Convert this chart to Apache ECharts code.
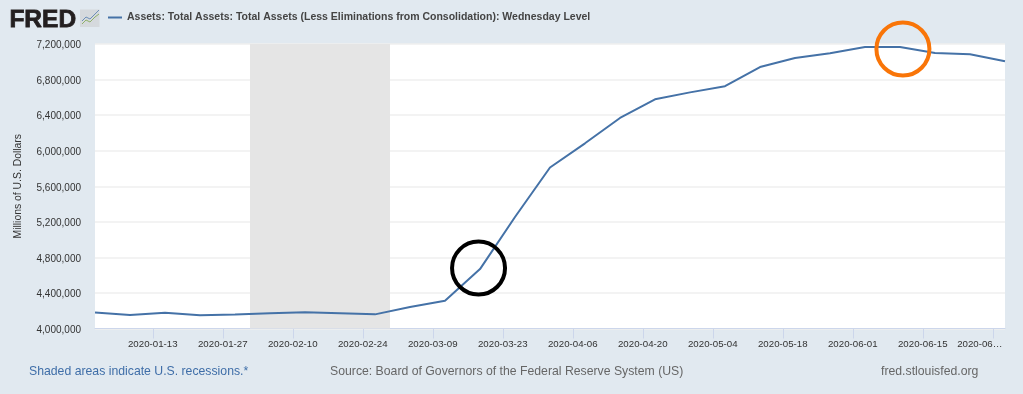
<!DOCTYPE html>
<html>
<head>
<meta charset="utf-8">
<style>html,body{margin:0;padding:0;background:#e1e9f0}#root{width:1023px;height:394px}</style>
<script src="https://cdn.jsdelivr.net/npm/echarts@6/dist/echarts.min.js"></script>
</head>
<body>
<div id="root"></div>
<script>
const seriesName = 'Assets: Total Assets: Total Assets (Less Eliminations from Consolidation): Wednesday Level';
const weekDates = ['2020-01-01','2020-01-08','2020-01-15','2020-01-22','2020-01-29','2020-02-05','2020-02-12','2020-02-19','2020-02-26',
  '2020-03-04','2020-03-11','2020-03-18','2020-03-25','2020-04-01','2020-04-08','2020-04-15','2020-04-22','2020-04-29',
  '2020-05-06','2020-05-13','2020-05-20','2020-05-27','2020-06-03','2020-06-10','2020-06-17','2020-06-24','2020-07-01'];
const assetValues = [4180000,4152000,4176000,4148000,4158000,4171000,4184000,4172000,4159000,
  4242000,4312000,4668000,5254000,5811000,6083000,6368000,6578000,6656000,
  6725000,6941000,7043000,7097000,7167000,7167000,7098000,7085000,7006000];
const tickDates = ['2020-01-13','2020-01-27','2020-02-10','2020-02-24','2020-03-09','2020-03-23','2020-04-06',
  '2020-04-20','2020-05-04','2020-05-18','2020-06-01','2020-06-15','2020-06-29'];
const tickLabels = ['2020-01-13','2020-01-27','2020-02-10','2020-02-24','2020-03-09','2020-03-23','2020-04-06',
  '2020-04-20','2020-05-04','2020-05-18','2020-06-01','2020-06-15','2020-06…'];
const recession = ['2020-02-01','2020-02-29'];
const blackCircle = ['2020-03-17T17:00Z',4680000];
const orangeCircle = ['2020-06-10T14:00Z',7144000];

const font = '"Liberation Sans", Arial, sans-serif';
// dates go on a plain value axis as ms, the ticks are every other monday
const ms = d => Date.parse(d);
// fred's ticks sit about half a day ahead of the data
const tickShift = 0.45*86400000;
const tickTimes = tickDates.map(d => ms(d)-tickShift);

let root = document.getElementById('root');
let myCharts = echarts.init(root);
let option = {
  animation:false,
  backgroundColor:'#e1e9f0',
  textStyle:{fontFamily:font},
  legend:{
    left:103,
    top:7,
    icon:'rect',
    itemWidth:14,
    itemHeight:2,
    itemGap:0,
    data:[seriesName],
    textStyle:{fontFamily:font,fontSize:10.5,fontWeight:'bold',color:'#444'}
  },
  grid:{
    show:true,
    left:95,
    right:18,
    top:44,
    bottom:65.5,
    backgroundColor:'#fff',
    borderWidth:0
  },
  xAxis:{
    type:'value',
    min:ms(weekDates[0]),
    max:ms(weekDates[weekDates.length-1]),
    splitLine:{show:false},
    axisLine:{onZero:false,lineStyle:{color:'#ccd6eb'}},
    axisTick:{length:10,lineStyle:{color:'#ccd6eb'},customValues:tickTimes},
    axisLabel:{
      customValues:tickTimes,
      hideOverlap:false,
      showMinLabel:true,
      showMaxLabel:true,
      margin:11,
      fontFamily:font,
      fontSize:9.7,
      color:'#333',
      formatter:v => {
        let i = tickTimes.indexOf(v);
        return i === tickLabels.length-1 ? '{last|'+tickLabels[i]+'}' : tickLabels[i];
      },
      rich:{last:{fontFamily:font,fontSize:9.7,color:'#333',padding:[0,26,0,0]}}
    }
  },
  yAxis:{
    type:'value',
    min:4000000,
    max:7200000,
    interval:400000,
    name:'Millions of U.S. Dollars',
    nameLocation:'middle',
    nameGap:72,
    nameTextStyle:{fontFamily:font,fontSize:10.4,color:'#333'},
    axisLine:{show:false},
    axisTick:{show:false},
    axisLabel:{
      margin:14,
      fontFamily:font,
      fontSize:10,
      color:'#333',
      formatter:v => '{n|'+v.toLocaleString('en-US')+'}',
      rich:{n:{fontFamily:font,fontSize:10,color:'#333',padding:[3,0,0,0]}}
    },
    splitLine:{lineStyle:{color:'#efefef',width:1.5}}
  },
  series:[
    {
      name:seriesName,
      type:'line',
      data:weekDates.map((d,i) => [ms(d),assetValues[i]]),
      showSymbol:false,
      lineStyle:{color:'#4572a7',width:2},
      itemStyle:{color:'#4572a7'},
      markArea:{
        silent:true,
        itemStyle:{color:'#e5e5e5',opacity:1},
        data:[[{xAxis:ms(recession[0])},{xAxis:ms(recession[1])}]]
      },
      z:2
    },
    {
      type:'scatter',
      clip:false,
      symbol:'circle',
      symbolSize:53,
      z:5,
      silent:true,
      itemStyle:{color:'transparent',borderColor:'#000',borderWidth:4,opacity:1},
      data:[[ms(blackCircle[0]),blackCircle[1]]]
    },
    {
      type:'scatter',
      clip:false,
      symbol:'circle',
      symbolSize:53,
      z:5,
      silent:true,
      itemStyle:{color:'transparent',borderColor:'#f97508',borderWidth:4,opacity:1},
      data:[[ms(orangeCircle[0]),orangeCircle[1]]]
    }
  ],
  graphic:[
    {type:'text',left:9,top:7,style:{text:'FRED',font:'bold 24.5px '+font,fill:'#231f20',stroke:'#231f20',lineWidth:0.8}},
    {type:'rect',shape:{x:80,y:9.5,width:19.5,height:17.5},style:{fill:'#d5d9dd'}},
    {type:'polyline',shape:{points:[[82,24],[86,20],[90,22],[95,17],[99,14]]},style:{stroke:'#8fb06a',fill:null,lineWidth:1}},
    {type:'polyline',shape:{points:[[82,21],[86,17],[90,19],[95,14],[99,10]]},style:{stroke:'#6c8fb8',fill:null,lineWidth:1}},
    {type:'text',left:29,top:366,style:{text:'Shaded areas indicate U.S. recessions.*',font:'12.25px '+font,fill:'#3f6ea8'}},
    {type:'text',left:330,top:366,style:{text:'Source: Board of Governors of the Federal Reserve System (US)',font:'12.25px '+font,fill:'#666'}},
    {type:'text',left:881,top:366,style:{text:'fred.stlouisfed.org',font:'12.25px '+font,fill:'#666'}}
  ]
};
myCharts.setOption(option);
</script>
</body>
</html>
